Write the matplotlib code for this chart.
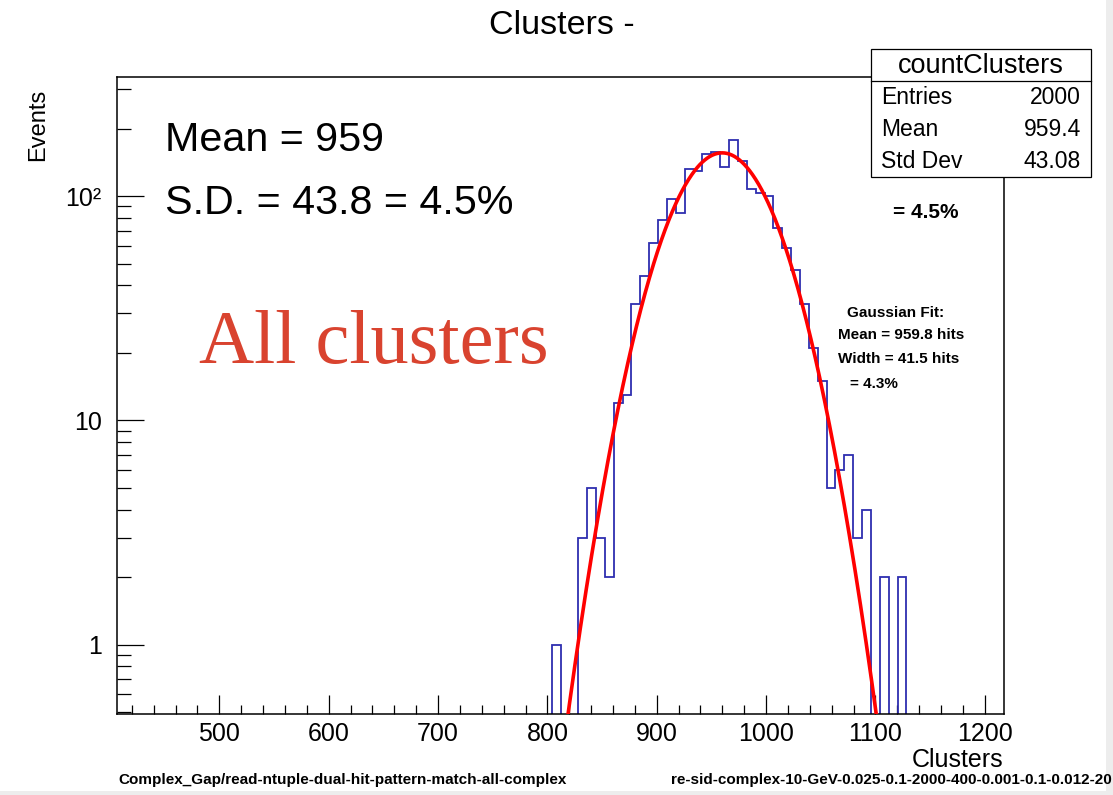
import matplotlib
matplotlib.use('Agg')
import matplotlib.pyplot as plt
import numpy as np
from matplotlib.patches import Rectangle
from matplotlib.lines import Line2D
from matplotlib.ticker import FixedLocator, MultipleLocator

plt.rcParams['font.family'] = ['Liberation Sans', 'DejaVu Sans']

W, H = 1113, 795

# histogram binning (100 bins over the axis range), filled bins start at 49
x_lo, x_hi, n_bins = 406.5, 1217.5, 100
first_bin = 49
counts = [1, 0, 0, 3, 5, 3, 2, 12, 13, 33,
          44, 62, 78, 97, 84, 132, 130, 154, 158, 135,
          178, 143, 108, 103, 100, 72, 59, 47, 33, 21,
          15, 5, 6, 7, 3, 4, 0, 2, 0, 2]

# gaussian fit parameters
fit_mean = 959.8
fit_sigma = 41.5
fit_amp = 156.0

x_ticks = [500, 600, 700, 800, 900, 1000, 1100, 1200]
y_ticks = [1, 10, 100]
y_labels = ['1', '10', '10²']


def px(x, y):
    return x / W, 1 - y / H


fig = plt.figure(figsize=(W / 100, H / 100), dpi=100)
fig.patch.set_facecolor('white')

# faint screenshot border on the right and bottom
fig.patches.append(Rectangle((1106 / W, 0), 7 / W, 1, transform=fig.transFigure,
                             facecolor='#ededed', edgecolor='none', zorder=0))
fig.patches.append(Rectangle((0, 0), 1, 4 / H, transform=fig.transFigure,
                             facecolor='#ededed', edgecolor='none', zorder=0))

ax = fig.add_axes([117 / W, 1 - 714 / H, (1004 - 117) / W, (714 - 77) / H])

edges = np.linspace(x_lo, x_hi, n_bins + 1)
full = np.zeros(n_bins)
full[first_bin:first_bin + len(counts)] = counts
shown = np.where(full > 0, full, 1e-3)
ax.stairs(shown, edges, baseline=1e-3, color='#2e2eb0', lw=1.3, zorder=2)

xf = np.linspace(790, 1130, 600)
yf = fit_amp * np.exp(-0.5 * ((xf - fit_mean) / fit_sigma) ** 2)
ax.plot(xf, yf, color='#ff0000', lw=2.6, zorder=3)

ax.set_yscale('log')
ax.set_xlim(x_lo, x_hi)
ax.set_ylim(0.49, 340)

ax.xaxis.set_major_locator(FixedLocator(x_ticks))
ax.xaxis.set_minor_locator(MultipleLocator(20))
ax.set_xticklabels([str(t) for t in x_ticks])
ax.yaxis.set_major_locator(FixedLocator(y_ticks))
ax.set_yticklabels(y_labels)
minor_y = [m * 10 ** e for e in range(-1, 3) for m in range(2, 10)]
ax.yaxis.set_minor_locator(FixedLocator(minor_y))
ax.yaxis.set_minor_formatter(plt.NullFormatter())

ax.tick_params(axis='x', which='major', direction='in', length=13.5, width=0.9,
               labelsize=18, pad=6)
ax.tick_params(axis='x', which='minor', direction='in', length=6.8, width=0.9)
ax.tick_params(axis='y', which='major', direction='in', length=19.5, width=0.9,
               labelsize=18, pad=11)
ax.tick_params(axis='y', which='minor', direction='in', length=10, width=0.9)
for s in ax.spines.values():
    s.set_linewidth(1.1)

# titles
fig.text(*px(562, 26), 'Clusters -', ha='center', va='center', fontsize=24.5)
fig.text(*px(38, 89), 'Events', rotation=90, ha='center', va='top', fontsize=17)
fig.text(*px(1003, 760), 'Clusters', ha='right', va='center', fontsize=18)
fig.text(*px(118, 780), 'Complex_Gap/read-ntuple-dual-hit-pattern-match-all-complex',
         ha='left', va='center', fontsize=11, fontweight='bold')
fig.text(*px(671, 780), 're-sid-complex-10-GeV-0.025-0.1-2000-400-0.001-0.1-0.012-20',
         ha='left', va='center', fontsize=11, fontweight='bold')

# stats box
bx0, by0, bx1, by1 = 871, 49, 1091, 177
fig.patches.append(Rectangle(px(bx0, by1), (bx1 - bx0) / W, (by1 - by0) / H,
                             transform=fig.transFigure, facecolor='white',
                             edgecolor='black', lw=0.9, zorder=10))
fig.lines.append(Line2D([bx0 / W, bx1 / W], [1 - 81 / H, 1 - 81 / H],
                        transform=fig.transFigure, color='black', lw=0.9, zorder=11))
fig.text(*px(981, 66), 'countClusters', ha='center', va='center', fontsize=19.5, zorder=12)
stat_names = ['Entries', 'Mean', 'Std Dev']
stat_values = ['2000', '959.4', '43.08']
for i, (n, v) in enumerate(zip(stat_names, stat_values)):
    y = 98 + 32 * i
    fig.text(*px(881, y), n, ha='left', va='center', fontsize=16.5, zorder=12)
    fig.text(*px(1081, y), v, ha='right', va='center', fontsize=16.5, zorder=12)

# annotations
fig.text(*px(893, 213), '= 4.5%', ha='left', va='center', fontsize=15,
         fontweight='bold', zorder=12)
fig.text(*px(847, 313), 'Gaussian Fit:', ha='left', va='center', fontsize=11, fontweight='bold')
fig.text(*px(838, 335), 'Mean = 959.8 hits', ha='left', va='center', fontsize=11, fontweight='bold')
fig.text(*px(838, 359), 'Width = 41.5 hits', ha='left', va='center', fontsize=11, fontweight='bold')
fig.text(*px(850, 384), '= 4.3%', ha='left', va='center', fontsize=11, fontweight='bold')

fig.text(*px(165, 140), 'Mean = 959', ha='left', va='center', fontsize=29.7)
fig.text(*px(165, 203), 'S.D. = 43.8 = 4.5%', ha='left', va='center', fontsize=29.7)
fig.text(*px(199, 363), 'All clusters', ha='left', va='baseline', fontsize=55,
         family=['Liberation Serif', 'DejaVu Serif'], color='#d9432f')

fig.savefig('out.png', dpi=100)
